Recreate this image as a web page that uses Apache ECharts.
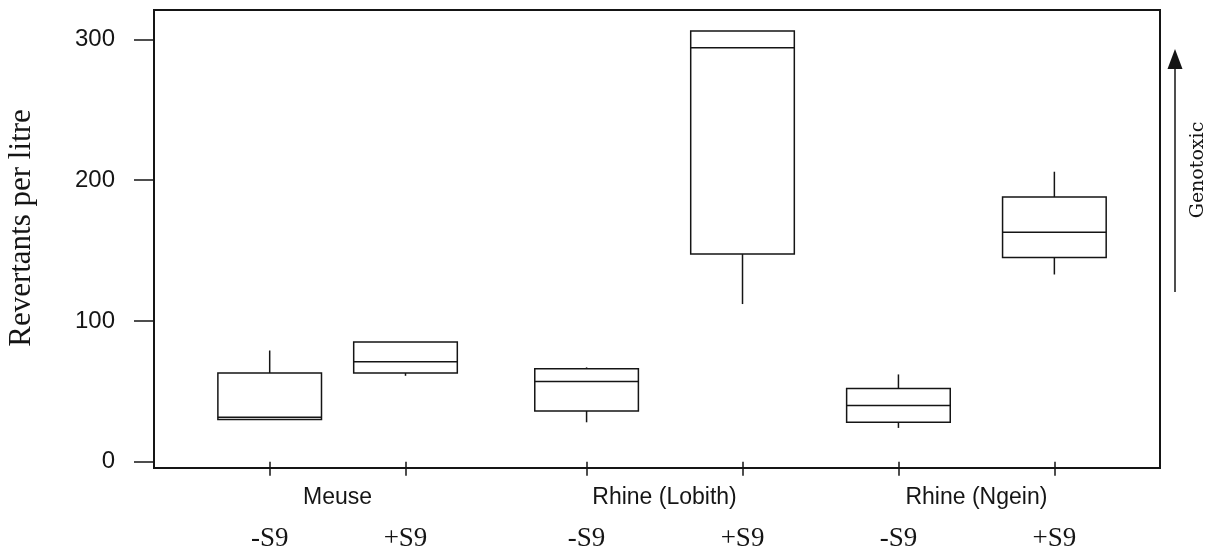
<!DOCTYPE html>
<html>
<head>
<meta charset="utf-8">
<title>Revertants per litre</title>
<script src="https://cdn.jsdelivr.net/npm/echarts@6/dist/echarts.min.js"></script>
<style>
  html, body { margin: 0; padding: 0; background: #fff; }
  #chart { width: 1223px; height: 556px; }
</style>
</head>
<body>
<div id="chart"></div>
<script>
// Sampling sites and S9 conditions
const groups = ['Meuse', 'Rhine (Lobith)', 'Rhine (Ngein)'];
const conditions = ['-S9', '+S9', '-S9', '+S9', '-S9', '+S9'];

// Box statistics per site/condition (revertants per litre)
const minVals    = [30, 61, 28, 112, 24, 133];
const q1Vals     = [30, 63, 36, 147.5, 28, 145];
const medianVals = [31.5, 71, 57, 294, 40, 163];
const q3Vals     = [63, 85, 66, 306, 52, 188];
const maxVals    = [79, 85, 67, 306, 62, 206];

const yTicks = [0, 100, 200, 300];

// Layout: horizontal slot of each box on the 0..10 x scale
const slotPos = [1.15, 2.5, 4.3, 5.85, 7.4, 8.95];
const groupCenters = [0, 1, 2].map(g => (slotPos[2 * g] + slotPos[2 * g + 1]) / 2);
const boxWidth = 1.03;

const ink = '#151515';
const boxData = slotPos.map((p, i) => [p, minVals[i], q1Vals[i], medianVals[i], q3Vals[i], maxVals[i]]);

function renderBox(params, api) {
  const x = api.value(0);
  const pMin = api.coord([x, api.value(1)]);
  const pQ1 = api.coord([x, api.value(2)]);
  const pMed = api.coord([x, api.value(3)]);
  const pQ3 = api.coord([x, api.value(4)]);
  const pMax = api.coord([x, api.value(5)]);
  const half = api.size([boxWidth, 0])[0] / 2;
  const line = { stroke: ink, lineWidth: 1.5, fill: null };
  const children = [];
  if (pMax[1] < pQ3[1] - 0.5) {
    children.push({ type: 'line', shape: { x1: x && pMax[0], y1: pMax[1], x2: pQ3[0], y2: pQ3[1] }, style: line });
  }
  if (pMin[1] > pQ1[1] + 0.5) {
    children.push({ type: 'line', shape: { x1: pQ1[0], y1: pQ1[1], x2: pMin[0], y2: pMin[1] }, style: line });
  }
  children.push({
    type: 'rect',
    shape: { x: pQ3[0] - half, y: pQ3[1], width: half * 2, height: pQ1[1] - pQ3[1] },
    style: { stroke: ink, lineWidth: 1.5, fill: '#fff' }
  });
  children.push({
    type: 'line',
    shape: { x1: pMed[0] - half, y1: pMed[1], x2: pMed[0] + half, y2: pMed[1] },
    style: line
  });
  return { type: 'group', children: children };
}

const chart = echarts.init(document.getElementById('chart'), null, { renderer: 'canvas' });

chart.setOption({
  animation: false,
  backgroundColor: '#fff',
  grid: {
    show: true,
    left: 154, top: 10, width: 1006, height: 458,
    borderColor: ink, borderWidth: 2,
    backgroundColor: 'transparent'
  },
  xAxis: [
    {
      type: 'value', min: 0, max: 10, position: 'bottom',
      axisLine: { show: false },
      splitLine: { show: false },
      axisTick: { show: true, customValues: slotPos, length: 14, lineStyle: { color: ink, width: 1.5 } },
      axisLabel: {
        customValues: slotPos,
        formatter: v => conditions[slotPos.indexOf(v)],
        margin: 71, verticalAlign: 'middle',
        color: ink, fontFamily: 'Liberation Serif', fontSize: 27
      }
    },
    {
      type: 'value', min: 0, max: 10, position: 'bottom',
      axisLine: { show: false },
      splitLine: { show: false },
      axisTick: { show: false },
      axisLabel: {
        customValues: groupCenters,
        formatter: v => groups[groupCenters.indexOf(v)],
        margin: 30, verticalAlign: 'middle',
        color: ink, fontFamily: 'Liberation Sans', fontSize: 23
      }
    }
  ],
  yAxis: {
    type: 'value', min: -4.48, max: 320.9,
    axisLine: { show: false },
    splitLine: { show: false },
    axisTick: { show: true, customValues: yTicks, length: 20, lineStyle: { color: ink, width: 1.5 } },
    axisLabel: {
      customValues: yTicks,
      margin: 39,
      color: ink, fontFamily: 'Liberation Sans', fontSize: 24
    }
  },
  graphic: [
    {
      type: 'text', x: 22, y: 228, rotation: Math.PI / 2,
      style: {
        text: 'Revertants per litre', fill: ink,
        font: '31px "Liberation Serif"', align: 'center', verticalAlign: 'middle'
      }
    },
    {
      type: 'line', shape: { x1: 1175, y1: 292, x2: 1175, y2: 66 },
      style: { stroke: ink, lineWidth: 1.5 }
    },
    {
      type: 'polygon', shape: { points: [[1175, 49], [1167.5, 69], [1182.5, 69]] },
      style: { fill: ink }
    },
    {
      type: 'text', x: 1198, y: 170, rotation: Math.PI / 2,
      style: {
        text: 'Genotoxic', fill: ink,
        font: '19px "DejaVu Serif"', align: 'center', verticalAlign: 'middle'
      }
    }
  ],
  series: [
    {
      type: 'custom',
      xAxisIndex: 0,
      renderItem: renderBox,
      encode: { x: 0, y: [1, 2, 3, 4, 5] },
      data: boxData
    }
  ]
});
</script>
</body>
</html>
